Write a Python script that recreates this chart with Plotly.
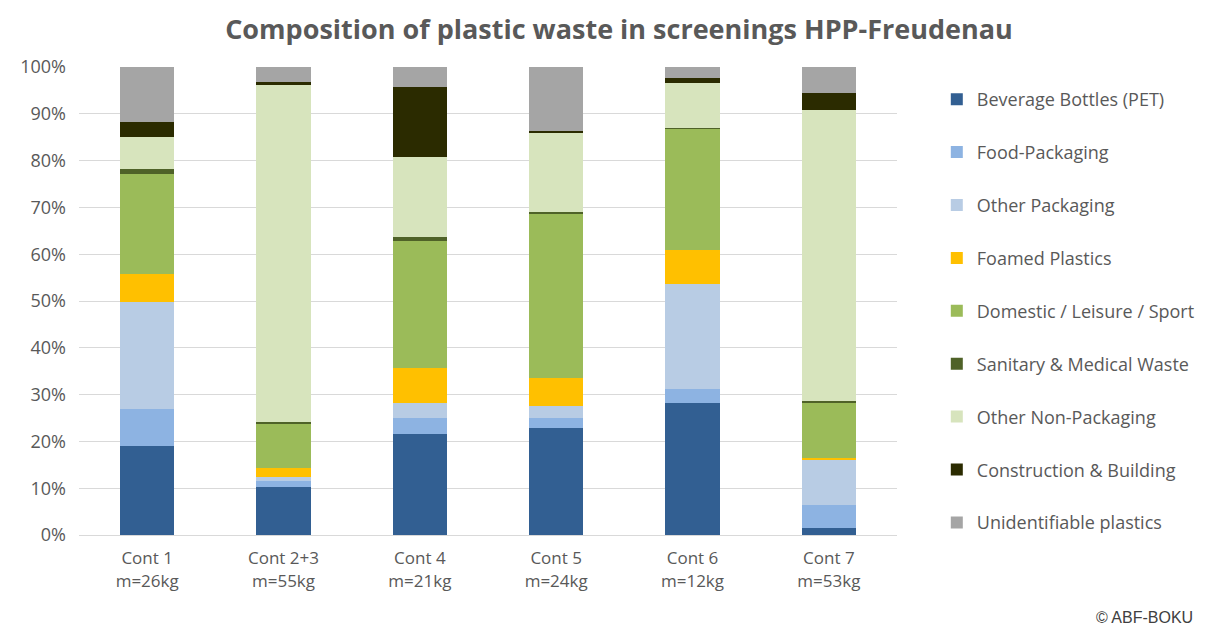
import plotly.graph_objects as go

categories = ["Cont 1<br>m=26kg", "Cont 2+3<br>m=55kg", "Cont 4<br>m=21kg",
              "Cont 5<br>m=24kg", "Cont 6<br>m=12kg", "Cont 7<br>m=53kg"]

beverage_bottles = [19.0, 10.3, 21.6, 22.9, 28.3, 1.6]
food_packaging = [7.9, 1.2, 3.3, 2.2, 3.0, 4.8]
other_packaging = [22.9, 0.9, 3.4, 2.5, 22.3, 9.8]
foamed_plastics = [6.0, 1.9, 7.4, 6.0, 7.3, 0.2]
domestic_leisure_sport = [21.3, 9.6, 27.2, 35.1, 26.0, 12.0]
sanitary_medical = [1.1, 0.3, 0.8, 0.4, 0.1, 0.3]
other_non_packaging = [6.8, 72.0, 17.0, 16.9, 9.6, 62.2]
construction_building = [3.2, 0.6, 15.1, 0.4, 1.0, 3.6]
unidentifiable = [11.8, 3.2, 4.2, 13.6, 2.5, 5.6]

series = [
    ("Beverage Bottles (PET)", beverage_bottles, "#325F92"),
    ("Food-Packaging", food_packaging, "#8DB3E2"),
    ("Other Packaging", other_packaging, "#B8CCE4"),
    ("Foamed Plastics", foamed_plastics, "#FFC000"),
    ("Domestic / Leisure / Sport", domestic_leisure_sport, "#9BBB59"),
    ("Sanitary & Medical Waste", sanitary_medical, "#4F6228"),
    ("Other Non-Packaging", other_non_packaging, "#D7E4BD"),
    ("Construction & Building", construction_building, "#2B2B00"),
    ("Unidentifiable plastics", unidentifiable, "#A5A5A5"),
]

fig = go.Figure()
for name, vals, color in series:
    fig.add_trace(go.Bar(
        x=categories, y=[v / 100 for v in vals], name=name,
        legendgroup=name, marker=dict(color=color, line=dict(width=0)),
    ))

L, T, R, B = 67, 59, 317, 99
PW, PH = 1206 - L - R, 626 - T - B

fig.update_layout(
    barmode="stack",
    bargap=0.6,
    width=1206, height=626,
    margin=dict(l=L, r=R, t=T, b=B),
    paper_bgcolor="white", plot_bgcolor="white",
    font=dict(family="Open Sans", color="#595959", size=17),
    title=dict(text="<b>Composition of plastic waste in screenings HPP-Freudenau</b>",
               x=611 / 1206, xanchor="center", xref="container",
               y=1 - 22 / 626, yanchor="middle",
               font=dict(size=27, color="#595959")),
    legend=dict(x=(929 - L) / PW, xanchor="left", y=1 + (T - 73) / PH, yanchor="top",
                traceorder="grouped", tracegroupgap=26.5,
                font=dict(size=18, color="#595959"), itemwidth=30),
    yaxis=dict(range=[0, 1], dtick=0.1, tickformat=".0%", showgrid=True,
               gridcolor="#D9D9D9", gridwidth=1, zeroline=False,
               ticklabelstandoff=12,
               tickfont=dict(size=18, color="#595959"), ticks="", ),
    xaxis=dict(showline=True, linecolor="#D9D9D9", linewidth=1,
               ticklabelstandoff=8,
               tickfont=dict(size=17, color="#595959"), ticks=""),
    annotations=[dict(text="© ABF-BOKU", xref="paper", yref="paper",
                      x=(1188 - L) / PW, y=(T + PH - 609) / PH, xanchor="right",
                      yanchor="middle", showarrow=False,
                      font=dict(family="Liberation Sans", size=16, color="#404040"))],
)

fig.write_html("out.html")
